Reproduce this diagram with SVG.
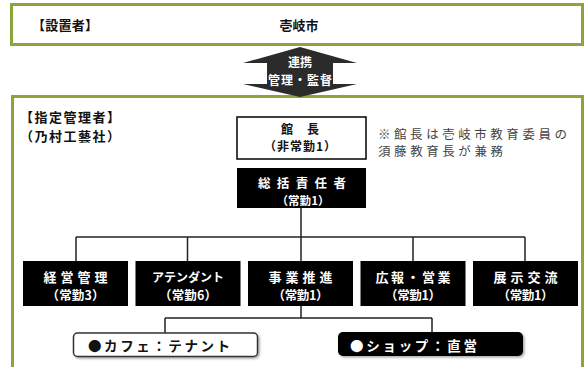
<svg xmlns="http://www.w3.org/2000/svg" width="584" height="367" viewBox="0 0 584 367">
<style>
.frame{fill:#fff;stroke:#8ba53a;stroke-width:3}
.t{font-family:"Noto Sans CJK JP","Noto Sans",sans-serif;font-weight:700;text-anchor:middle;dominant-baseline:central}
.dk{fill:#111}
.wt{fill:#fff}
.note{font-family:"Noto Sans CJK JP","Noto Sans",sans-serif;font-size:12.5px;fill:#444;dominant-baseline:central}
.blk{fill:#000}
.wbox{fill:#fff;stroke:#000;stroke-width:1.5}
.conn{fill:none;stroke:#222;stroke-width:1.5}
</style>
<defs>
<filter id="sh" x="-10%" y="-20%" width="130%" height="150%">
<feDropShadow dx="1.5" dy="1.5" stdDeviation="0.8" flood-color="#000" flood-opacity="0.35"/>
</filter>
</defs>
<rect width="584" height="367" fill="#fff"/>

<g id="founder">
<rect class="frame" x="11.5" y="4.5" width="571" height="40"/>
<text class="t dk" x="65" y="24.5" font-size="13" textLength="66">【設置者】</text>
<text class="t dk" x="299" y="24.5" font-size="13">壱岐市</text>
</g>

<g id="manager-frame">
<rect class="frame" x="12.5" y="96.5" width="570" height="290"/>
<text class="t dk" x="70" y="116" font-size="13" textLength="100">【指定管理者】</text>
<text class="t dk" x="70" y="135" font-size="13" textLength="100">（乃村工藝社）</text>
</g>

<g id="link-arrow">
<polygon points="300,47 357,63 333,63 333,84 357,84 300,97 243,84 267,84 267,63 243,63" fill="#2b2b2b"/>
<text class="t wt" x="300" y="61.5" font-size="12">連携</text>
<text class="t wt" x="300" y="79.5" font-size="12" textLength="64">管理・監督</text>
</g>

<g id="connectors">
<path class="conn" d="M301,208 V261"/>
<path class="conn" d="M76,237 H525"/>
<path class="conn" d="M76,237 V261 M187.5,237 V261 M413,237 V261 M525,237 V261"/>
<path class="conn" d="M301,306 V318 M165,318 H432 M165,318 V333 M432,318 V332"/>
</g>

<g id="director">
<rect class="wbox" x="237" y="117" width="129" height="42"/>
<text class="t dk" x="300" y="128.5" font-size="12" textLength="38">館　長</text>
<text class="t dk" x="300" y="145.5" font-size="12" textLength="72">（非常勤1）</text>
</g>
<text class="note" x="378" y="133" textLength="189">※館長は壱岐市教育委員の</text>
<text class="note" x="378" y="150.5" textLength="125">須藤教育長が兼務</text>

<g id="chief">
<rect class="blk" x="237" y="168" width="129" height="40"/>
<text class="t wt" x="302" y="182.5" font-size="12.5" textLength="88">総括責任者</text>
<text class="t wt" x="303" y="199.5" font-size="11.5" textLength="53">（常勤1）</text>
</g>

<g id="keiei">
<rect class="blk" x="23" y="261" width="105" height="45"/>
<text class="t wt" x="75.5" y="276" font-size="13" textLength="64">経営管理</text>
<text class="t wt" x="75.5" y="294" font-size="12.5" textLength="58">（常勤3）</text>
</g>

<g id="attendant">
<rect class="blk" x="135.5" y="261" width="105" height="45"/>
<text class="t wt" x="188" y="276" font-size="12" textLength="72">アテンダント</text>
<text class="t wt" x="188" y="294" font-size="12.5" textLength="58">（常勤6）</text>
</g>

<g id="jigyo">
<rect class="blk" x="248" y="261" width="105" height="45"/>
<text class="t wt" x="300.5" y="276" font-size="13" textLength="64">事業推進</text>
<text class="t wt" x="300.5" y="294" font-size="12.5" textLength="56">（常勤1）</text>
</g>

<g id="koho">
<rect class="blk" x="360.5" y="261" width="105" height="45"/>
<text class="t wt" x="413" y="276" font-size="13" textLength="75">広報・営業</text>
<text class="t wt" x="413" y="294" font-size="12.5" textLength="56">（常勤1）</text>
</g>

<g id="tenji">
<rect class="blk" x="473" y="261" width="105" height="45"/>
<text class="t wt" x="525.5" y="276" font-size="13" textLength="64">展示交流</text>
<text class="t wt" x="525.5" y="294" font-size="12.5" textLength="56">（常勤1）</text>
</g>

<g id="cafe">
<rect x="73.5" y="333" width="184" height="23.5" rx="4" fill="#fff" stroke="#333" stroke-width="1.5" filter="url(#sh)"/>
<text class="t dk" x="159" y="345" font-size="13.5" textLength="142">●カフェ：テナント</text>
</g>

<g id="shop">
<rect x="338" y="332" width="185" height="24" rx="5" fill="#000" filter="url(#sh)"/>
<text class="t wt" x="413.5" y="344.5" font-size="13.5" textLength="127">●ショップ：直営</text>
</g>
</svg>
